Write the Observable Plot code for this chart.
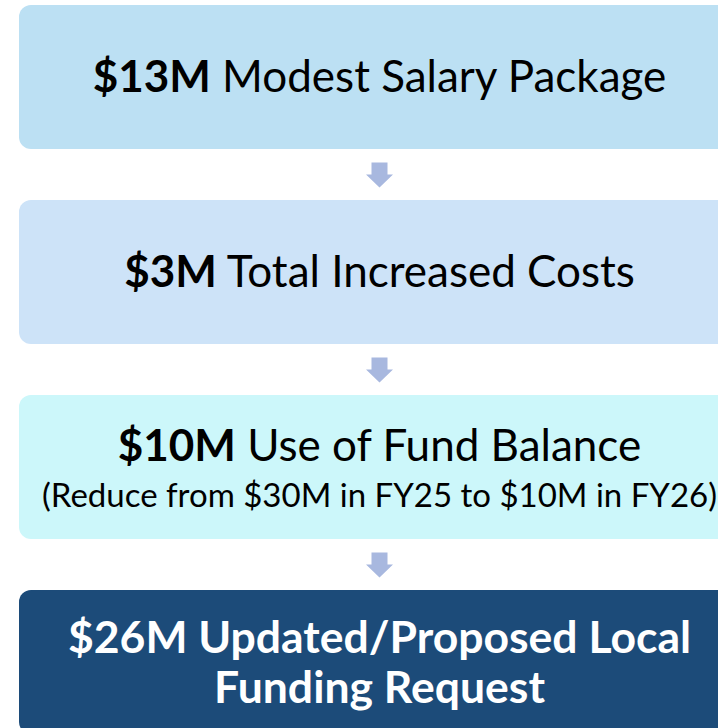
<!DOCTYPE html>
<html><head><meta charset="utf-8">
<script src="https://cdn.jsdelivr.net/npm/d3@7"></script>
<script src="https://cdn.jsdelivr.net/npm/@observablehq/plot@0.6"></script>
<style>
html,body{margin:0;padding:0;background:#fff;overflow:hidden;width:718px;height:728px}
#chart{width:739px}
#chart svg{display:block;max-width:none !important;height:734px !important}
</style></head><body><div id="chart"></div>
<script>
const steps = ["salary", "costs", "fund", "request"];
const amounts = ["$13M", "$3M", "$10M", "$26M"];
const labels = ["Modest Salary Package", "Total Increased Costs", "Use of Fund Balance", "Updated/Proposed Local\nFunding Request"];
const notes = ["", "", "(Reduce from $30M in FY25 to $10M in FY26)", ""];
const palette = ["#BCE0F3", "#CDE3F8", "#CCF7FA", "#1C4B79"];

const rows = steps.map((s, i) => ({step: s, amount: amounts[i], label: labels[i], note: notes[i], index: i}));
const arrows = rows.slice(0, -1);
const last = rows.length - 1;

const arrowSymbol = {
  draw(ctx) {
    ctx.moveTo(-8, -12.5); ctx.lineTo(8, -12.5); ctx.lineTo(8, -0.5);
    ctx.lineTo(13.5, -0.5); ctx.lineTo(0, 12.5); ctx.lineTo(-13.5, -0.5);
    ctx.lineTo(-8, -0.5); ctx.closePath();
  }
};

const font = "Lato, 'Open Sans', sans-serif";

const chart = Plot.plot({
  width: 739,
  height: 734,
  marginLeft: 19,
  marginRight: 0,
  marginTop: 5,
  marginBottom: 0,
  style: {maxWidth: "none"},
  y: {type: "band", domain: steps, paddingInner: 51 / 195, paddingOuter: 0, round: false, axis: null},
  color: {type: "ordinal", domain: steps, range: palette},
  marks: [
    Plot.cell(rows, {y: "step", fill: "step", rx: 12, ry: 12}),
    Plot.dot(arrows, {y: "step", dy: 97.5, symbol: arrowSymbol, r: 10, fill: "#A8B8DF", stroke: "none"}),
    Plot.text(rows.filter(d => d.index < last && !d.note), {
      y: "step", text: d => d.amount + " " + d.label, fontSize: 44, fontFamily: font, fill: "#000"
    }),
    Plot.text(rows.filter(d => d.index < last && d.note), {
      y: "step", dy: -21, text: d => d.amount + " " + d.label, fontSize: 44, fontFamily: font, fill: "#000"
    }),
    Plot.text(rows.filter(d => d.note), {
      y: "step", dy: 29, text: "note", fontSize: 33, fontFamily: font, fill: "#000"
    }),
    Plot.text(rows.filter(d => d.index === last), {
      y: "step", dy: -1, text: d => d.amount + " " + d.label, fontSize: 44.5, fontWeight: "bold",
      lineHeight: 50 / 44.5, fontFamily: font, fill: "#fff"
    })
  ]
});

// Bold only the dollar amount in the light boxes
const svgNS = "http://www.w3.org/2000/svg";
chart.querySelectorAll("text").forEach(el => {
  rows.forEach(d => {
    if (d.index < last && el.textContent === d.amount + " " + d.label) {
      el.textContent = "";
      const b = document.createElementNS(svgNS, "tspan");
      b.setAttribute("font-weight", "bold");
      b.textContent = d.amount;
      el.append(b, " " + d.label);
    }
  });
});

document.getElementById("chart").append(chart);
</script>
</body></html>
